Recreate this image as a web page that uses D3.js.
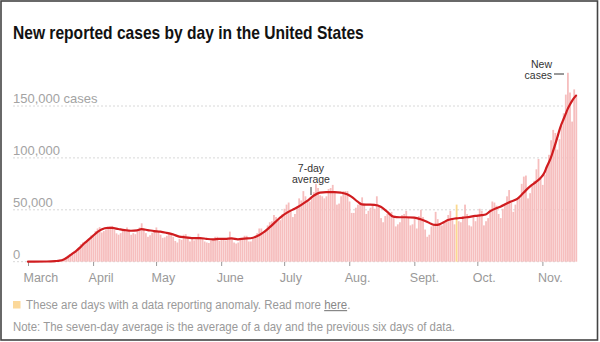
<!DOCTYPE html>
<html><head><meta charset="utf-8">
<script src="https://cdn.jsdelivr.net/npm/d3@7/dist/d3.min.js"></script>
<style>
html,body{margin:0;padding:0;background:#fff;}
svg{display:block;font-family:"Liberation Sans",Arial,sans-serif;}
</style></head>
<body><svg id="c" width="600" height="342"></svg>
<script>
// ---- data (values in thousands of cases) ----
const startDate = "2020-03-01";
const marchK = [0.01,0.02,0.03,0.03,0.07,0.06,0.1,0.12,0.18,0.29,0.4,0.46,0.63,0.77,0.75,1.2,1.7,2.7,4.5,5.9,7.1,8.2,10.5,10.0,12.6,17.0,18.6,19.5,18.9,21.4,25.4];
const aprilK = [26.2,29.5,32.0,33.3,28.2,29.5,31.0,31.8,34.0,34.5,30.5,27.3,26.0,27.5,29.8,31.0,33.0,29.3,26.0,27.5,26.5,29.0,33.0,37.0,32.0,27.5,24.0,25.5,28.0,30.5];
const mayK = [33.0,28.5,26.0,23.0,23.5,25.0,28.0,26.5,24.0,20.0,18.5,22.0,21.0,26.0,26.5,24.0,19.5,22.0,20.5,21.5,27.0,23.5,22.0,19.5,18.5,18.0,20.5,22.0,24.0,24.0,20.0];
const juneK = [21.0,21.0,20.5,21.5,29.0,22.0,18.5,17.5,18.5,21.0,22.5,25.0,25.0,19.5,19.5,23.0,25.0,27.5,32.0,32.0,27.0,30.0,35.0,38.0,39.0,45.0,43.0,40.0,40.0,46.0];
const julyK = [51,55,57,48,43,46,53,61,59,68,63,59,58,62,67,75,71,64,63,61,63,70,71,74,67,55,56,63,68,68,68];
const augK = [58,47,47,52,55,57,62,55,46,49,52,54,51,63,53,42,38,44,46,46,48,44,34,36,38,45,46,49,43,35,36];
const septK = [42,32,44,50,43,31,24,26,34,36,48,41,35,35,38,39,45,49,41,36,55,39,38,44,55,46,35,34,43,39];
const octK = [45,51,49,35,39,42,50,58,57,54,46,42,51,56,63,69,57,48,55,61,61,75,82,83,61,66,73,78,89,99,82];
const novK = [74,84,92,103,117,127,124,108,118,131,143,161,182,163,135,166,161];
const anomalyDates = ["2020-09-21"];

const avgDates = ["03-01","03-10","03-14","03-16","03-18","03-20","03-22","03-24","03-26","03-28","03-30","04-01","04-03","04-05","04-08","04-10","04-13","04-16","04-19","04-22","04-24","04-27","04-30","05-03","05-06","05-09","05-12","05-15","05-18","05-22","05-25","05-28","05-31","06-03","06-06","06-09","06-12","06-15","06-18","06-21","06-24","06-27","06-30","07-03","07-06","07-09","07-12","07-15","07-18","07-21","07-25","07-28","07-31","08-02","08-05","08-07","08-10","08-13","08-16","08-19","08-22","08-25","08-28","09-01","09-04","09-07","09-09","09-11","09-13","09-15","09-17","09-21","09-24","09-26","09-30","10-03","10-05","10-07","10-10","10-12","10-15","10-17","10-20","10-22","10-24","10-26","10-29","10-31","11-02","11-03","11-05","11-06","11-08","11-09","11-10","11-11","11-12","11-13","11-14","11-15","11-16","11-17"];
const avgK = [0,0.2,0.6,1.0,2.2,4.5,7.5,10.5,14,18,21.5,25,28.5,31,32.5,32.5,31.5,30.5,29.8,30.2,31.3,30.5,29.5,29,27.8,26.3,24.2,23.5,22.8,22.8,22,21.5,21.9,22,22.5,21.6,22.3,22.6,24.5,28,33,38.6,44,48,51,54.5,58.5,63.5,66.5,67,67,66.5,65,62.7,57.9,55.3,55,54.7,53,48.2,43.4,42.8,42.8,42.4,40.9,38.6,36.5,35.4,36,38,40.2,41.8,42.3,42.8,44.1,44.8,45.5,48.5,51.5,53,56,57.9,60.5,64.3,68.5,72.3,77,80.4,86,91,100,106,119,126,132,137,142,147,151,154.5,157.5,160];

const yTicks = [0, 50, 100, 150];
const monthStarts = ["2020-03-01","2020-04-01","2020-05-01","2020-06-01","2020-07-01","2020-08-01","2020-09-01","2020-10-01","2020-11-01"];
const monthLabels = ["March","April","May","June","July","Aug.","Sept.","Oct.","Nov."];

// ---- build ----
const parse = d3.utcParse("%Y-%m-%d");
const dailyK = [].concat(marchK, aprilK, mayK, juneK, julyK, augK, septK, octK, novK);
const t0 = parse(startDate);
const daily = dailyK.map((v, i) => ({date: d3.utcDay.offset(t0, i), v}));
const anomalySet = new Set(anomalyDates);
const avg = avgDates.map((d, i) => ({date: parse("2020-" + d), v: avgK[i]}));

const svg = d3.select("#c");
const x = d3.scaleUtc().domain([t0, daily[daily.length - 1].date]).range([28, 576]);
const y = d3.scaleLinear().domain([0, 150]).range([261.7, 106]);

svg.append("rect").attr("x", 0).attr("y", 0).attr("width", 600).attr("height", 342).attr("fill", "#fff");
svg.append("rect").attr("x", 1).attr("y", 1).attr("width", 596.5).attr("height", 339)
  .attr("fill", "none").attr("stroke", "#444").attr("stroke-width", 1.6);

// horizontally condense a text block to a target width (keeps text as text)
function fitScale(g, textSel, x0, w) {
  const l = textSel.node().getComputedTextLength();
  const s = w / l;
  g.attr("transform", `translate(${x0},0) scale(${s},1) translate(${-x0},0)`);
}

// title
const titleG = svg.append("g");
const title = titleG.append("text").attr("x", 13).attr("y", 39)
  .attr("font-size", 18).attr("font-weight", "bold").attr("fill", "#121212")
  .style("font-family", "'Liberation Sans Narrow','Liberation Sans',Arial,sans-serif")
  .text("New reported cases by day in the United States");
fitScale(titleG, title, 13, 351);

// gridlines + y labels
const fmt = d3.format(",");
svg.append("g").selectAll("line").data(yTicks).join("line")
  .attr("x1", 13).attr("x2", 577).attr("y1", d => y(d)).attr("y2", d => y(d))
  .attr("stroke", "#d8d8d8").attr("stroke-dasharray", "2,2").attr("stroke-width", 1);
svg.append("g").selectAll("text").data(yTicks).join("text")
  .attr("x", 13).attr("y", d => y(d) - 3)
  .attr("font-size", 13).attr("fill", "#a3a3a3")
  .text(d => fmt(d * 1000) + (d === 150 ? " cases" : ""));

// bars
svg.append("g").selectAll("rect").data(daily).join("rect")
  .attr("x", d => x(d.date) - 0.6).attr("width", 1.8)
  .attr("y", d => y(d.v)).attr("height", d => y(0) - y(d.v))
  .attr("fill", d => anomalySet.has(d3.utcFormat("%Y-%m-%d")(d.date)) ? "#fbd98f" : "#f6bebe");

// x axis
const xAxis = d3.axisBottom(x)
  .tickValues(monthStarts.map(parse))
  .tickSize(4)
  .tickFormat((d, i) => monthLabels[i]);
const gx = svg.append("g").attr("transform", "translate(0,262)").call(xAxis);
gx.select(".domain").remove();
gx.selectAll(".tick line").attr("stroke", "#999");
gx.selectAll(".tick text").attr("text-anchor", "start").attr("dx", -5).attr("y", 11)
  .attr("font-size", 12.5).attr("fill", "#999").style("font-family", "'Liberation Sans',Arial,sans-serif");

// average line
svg.append("path").datum(avg)
  .attr("d", d3.line().x(d => x(d.date)).y(d => y(d.v)).curve(d3.curveMonotoneX))
  .attr("fill", "none").attr("stroke", "#d01c1f").attr("stroke-width", 2.2)
  .attr("stroke-linejoin", "round").attr("stroke-linecap", "round");

// annotations
const ann = svg.append("g").attr("font-size", 10.5).attr("fill", "#333");
ann.append("text").attr("x", 311).attr("y", 172).attr("text-anchor", "middle").text("7-day");
ann.append("text").attr("x", 311).attr("y", 183).attr("text-anchor", "middle").text("average");
ann.append("line").attr("x1", 311).attr("x2", 311).attr("y1", 187).attr("y2", 195).attr("stroke", "#333");
ann.append("text").attr("x", 552).attr("y", 68).attr("text-anchor", "end").text("New");
ann.append("text").attr("x", 552).attr("y", 79).attr("text-anchor", "end").text("cases");
ann.append("line").attr("x1", 554).attr("x2", 564).attr("y1", 74).attr("y2", 74).attr("stroke", "#333");

// legend
svg.append("rect").attr("x", 13).attr("y", 301).attr("width", 7.5).attr("height", 7.5).attr("fill", "#fbd89a");
const legG = svg.append("g");
const leg = legG.append("text").attr("x", 26).attr("y", 309).attr("font-size", 12).attr("fill", "#9a9a9a");
leg.append("tspan").text("These are days with a data reporting anomaly. Read more ");
leg.append("tspan").attr("text-decoration", "underline").attr("fill", "#888").text("here");
leg.append("tspan").text(".");
fitScale(legG, leg, 26, 324.5);

const noteG = svg.append("g");
const note = noteG.append("text").attr("x", 13).attr("y", 331.5).attr("font-size", 12).attr("fill", "#9a9a9a")
  .text("Note: The seven-day average is the average of a day and the previous six days of data.");
fitScale(noteG, note, 13, 442.5);
</script></body></html>
